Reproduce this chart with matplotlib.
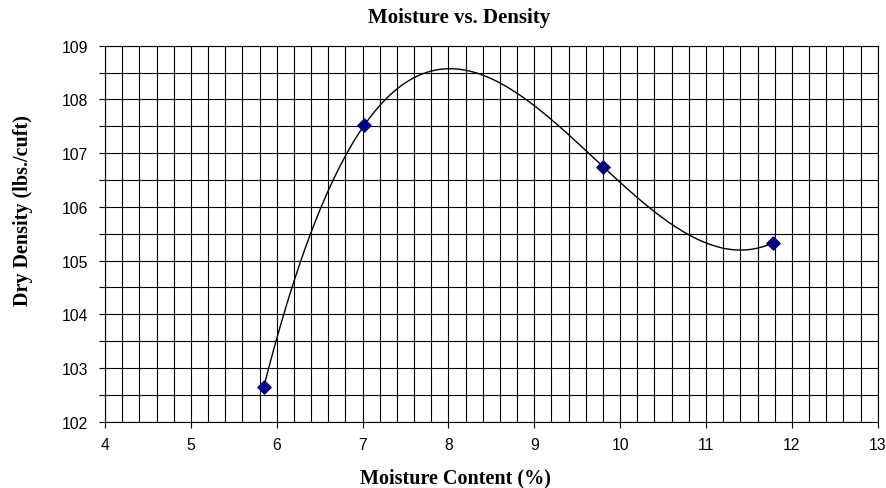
import numpy as np
import matplotlib
matplotlib.use("Agg")
import matplotlib.pyplot as plt
from matplotlib.ticker import MultipleLocator

# moisture / density test points
moisture = [5.85, 7.02, 9.80, 11.78]
density = [102.65, 107.52, 106.75, 105.33]

# cubic trendline through the points
coef = np.polyfit(moisture, density, 3)
xs = np.linspace(min(moisture), max(moisture), 300)
ys = np.polyval(coef, xs)

fig = plt.figure(figsize=(8.87, 4.89), dpi=100)
ax = fig.add_axes([105 / 887, 1 - 422.7 / 489, (877.7 - 105) / 887, (422.7 - 46.7) / 489])

ax.plot(xs, ys, color="black", linewidth=1.0, zorder=3)
ax.scatter(moisture, density, marker="D", s=45, color="#000080", zorder=4)

ax.set_xlim(4, 13)
ax.set_ylim(102, 109)
ax.xaxis.set_major_locator(MultipleLocator(1))
ax.xaxis.set_minor_locator(MultipleLocator(0.2))
ax.yaxis.set_major_locator(MultipleLocator(1))
ax.yaxis.set_minor_locator(MultipleLocator(0.5))
ax.grid(which="both", color="black", linewidth=0.8)
ax.set_axisbelow(True)
for s in ax.spines.values():
    s.set_linewidth(0.8)

ax.tick_params(axis="x", which="minor", length=0)
ax.tick_params(axis="y", which="minor", length=4, width=0.8)
ax.tick_params(axis="x", which="major", length=4, width=0.8, labelsize=11.3, pad=7)
ax.tick_params(axis="y", which="major", length=4, width=0.8, labelsize=11.3, pad=8)
for lab in ax.get_xticklabels() + ax.get_yticklabels():
    lab.set_fontfamily("Liberation Sans")

# titles sit centred on the chart area, not on the plot box
ax.set_title("Moisture vs. Density", fontfamily="Liberation Serif",
             fontweight="bold", fontsize=15, pad=17, x=0.458)
ax.set_xlabel("Moisture Content (%)", fontfamily="Liberation Serif",
              fontweight="bold", fontsize=14.5, labelpad=11)
ax.xaxis.label.set_x(0.454)
ax.set_ylabel("Dry Density (lbs./cuft)", fontfamily="Liberation Serif",
              fontweight="bold", fontsize=14.5, labelpad=21)
ax.yaxis.label.set_y(0.563)

fig.savefig("out.png", dpi=100)
